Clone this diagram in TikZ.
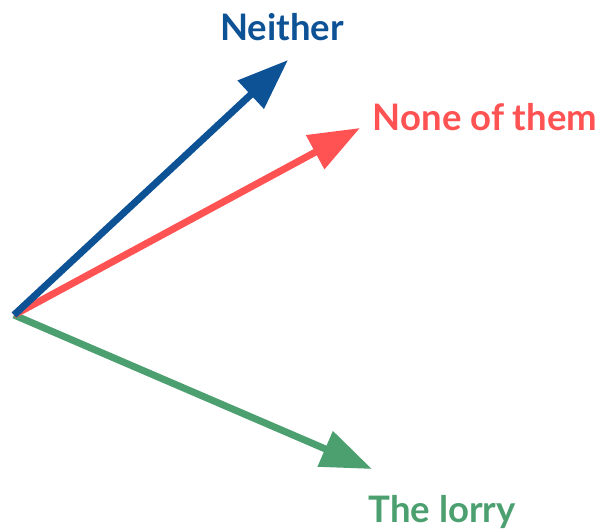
\documentclass[tikz,border=0pt]{standalone}
\usepackage{fontspec}
\setmainfont{Lato}
\usetikzlibrary{arrows.meta}
\definecolor{nblue}{RGB}{14,82,150}
\definecolor{nred}{RGB}{255,82,82}
\definecolor{ngreen}{RGB}{76,160,112}
\tikzset{
  every picture/.style={x=1pt, y=-1pt, line cap=butt},
  every node/.style={font=\fontsize{36.5}{40}\selectfont\bfseries},
  % Pfeile
  vec/.style={line width=7pt, -{Triangle[length=51pt,width=37pt]}},
  lbl/.style={inner sep=0pt},
}
\begin{document}
\begin{tikzpicture}
  \useasboundingbox (0,0) rectangle (602,530);
  % Ursprung und Spitzen
  \coordinate (o) at (14,315);
  \coordinate (tb) at (288,60);
  \coordinate (tr) at (360,128);
  \coordinate (tg) at (372,469);
  % Vektoren
  \draw[vec, ngreen] (o) -- (tg);
  \draw[vec, nred] (o) -- (tr);
  \draw[vec, nblue] (o) -- (tb);
  % Beschriftung
  \node[lbl, nblue] (neither) at (282,27) {Neither};
  \node[lbl, nred] (none) at (485,117) {None of them};
  \node[lbl, ngreen] (lorry) at (442,512) {The lorry};
\end{tikzpicture}
\end{document}
